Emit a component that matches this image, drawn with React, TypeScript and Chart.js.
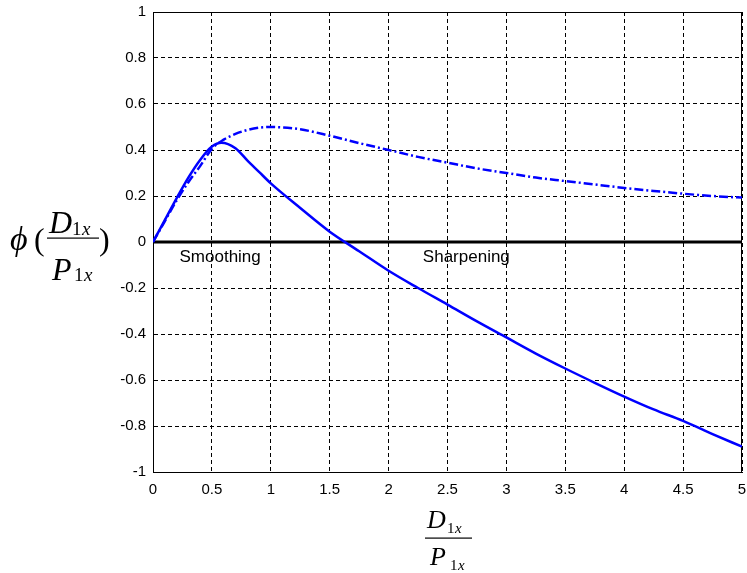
import React, { useEffect, useRef } from "react";
import { Chart, registerables } from "chart.js";

Chart.register(...registerables);

// Ratio D1x / P1x sampled along the horizontal axis
const ratioSolid = [0, 0.1, 0.2, 0.3, 0.4, 0.5, 0.58, 0.7, 0.8, 0.9, 1.0, 1.25, 1.5, 1.75, 2.0, 2.25, 2.5, 2.75, 3.0, 3.25, 3.5, 3.75, 4.0, 4.25, 4.5, 4.75, 5.0];
const phiSolid = [0, 0.095, 0.19, 0.28, 0.357, 0.415, 0.432, 0.408, 0.355, 0.305, 0.255, 0.148, 0.045, -0.04, -0.125, -0.2, -0.272, -0.345, -0.415, -0.485, -0.55, -0.612, -0.672, -0.728, -0.778, -0.835, -0.89];

const ratioDashDot = [0, 0.1, 0.2, 0.3, 0.4, 0.5, 0.6, 0.7, 0.8, 0.9, 1.0, 1.25, 1.5, 1.75, 2.0, 2.25, 2.5, 2.75, 3.0, 3.25, 3.5, 3.75, 4.0, 4.25, 4.5, 4.75, 5.0];
const phiDashDot = [0, 0.09, 0.18, 0.26, 0.33, 0.405, 0.445, 0.47, 0.487, 0.497, 0.5, 0.49, 0.462, 0.43, 0.4, 0.37, 0.345, 0.32, 0.3, 0.28, 0.265, 0.25, 0.235, 0.222, 0.21, 0.2, 0.193];

const zeroLineX = [0, 5];
const zeroLineY = [0, 0];

// Region annotations: [text, x, y]
const regionLabels: [string, number, number][] = [
  ["Smoothing", 0.57, -0.065],
  ["Sharpening", 2.66, -0.065],
];

const toPoints = (xs: number[], ys: number[]) => xs.map((x, i) => ({ x, y: ys[i] }));

const SANS = '"Liberation Sans", Arial, Helvetica, sans-serif';
const SERIF = '"Liberation Serif", "Times New Roman", serif';

const decorPlugin = {
  id: "decor",
  beforeDatasetsDraw(chart: any) {
    const { ctx, chartArea } = chart;
    ctx.save();
    ctx.strokeStyle = "#000";
    ctx.lineWidth = 1;
    ctx.setLineDash([]);
    ctx.strokeRect(chartArea.left + 0.5, chartArea.top + 0.5, chartArea.right - chartArea.left - 1, chartArea.bottom - chartArea.top);
    ctx.restore();
  },
  afterDraw(chart: any) {
    const { ctx, scales } = chart;
    const xs = scales.x;
    const ys = scales.y;
    ctx.save();
    ctx.fillStyle = "#000";
    ctx.textBaseline = "middle";
    ctx.textAlign = "center";
    ctx.font = `17px ${SANS}`;
    for (const [t, x, y] of regionLabels) {
      ctx.fillText(t, xs.getPixelForValue(x), ys.getPixelForValue(y));
    }

    ctx.textAlign = "left";
    ctx.textBaseline = "alphabetic";
    // vertical axis title: phi(D1x / P1x)
    ctx.font = `italic 34px ${SERIF}`;
    ctx.fillText("\u03d5", 10, 250);
    ctx.font = `32px ${SERIF}`;
    ctx.fillText("(", 34, 250);
    ctx.font = `italic 32px ${SERIF}`;
    ctx.fillText("D", 49, 233);
    ctx.font = `19px ${SERIF}`;
    ctx.fillText("1", 72, 235);
    ctx.font = `italic 19px ${SERIF}`;
    ctx.fillText("x", 82, 235);
    ctx.font = `italic 32px ${SERIF}`;
    ctx.fillText("P", 52, 280);
    ctx.font = `19px ${SERIF}`;
    ctx.fillText("1", 74, 281);
    ctx.font = `italic 19px ${SERIF}`;
    ctx.fillText("x", 84, 281);
    ctx.font = `32px ${SERIF}`;
    ctx.fillText(")", 99, 250);
    ctx.fillRect(47, 237.5, 52, 1.2);

    // horizontal axis title: D1x / P1x
    ctx.font = `italic 26px ${SERIF}`;
    ctx.fillText("D", 427, 528);
    ctx.font = `15px ${SERIF}`;
    ctx.fillText("1", 447, 533);
    ctx.font = `italic 15px ${SERIF}`;
    ctx.fillText("x", 455, 533);
    ctx.font = `italic 26px ${SERIF}`;
    ctx.fillText("P", 430, 565);
    ctx.font = `15px ${SERIF}`;
    ctx.fillText("1", 450, 570);
    ctx.font = `italic 15px ${SERIF}`;
    ctx.fillText("x", 458, 570);
    ctx.fillRect(425, 537.5, 47, 1.2);
    ctx.restore();
  },
};

export default function App() {
  const canvasRef = useRef<HTMLCanvasElement | null>(null);

  useEffect(() => {
    if (!canvasRef.current) return;
    const chart = new Chart(canvasRef.current, {
      type: "line",
      data: {
        datasets: [
          {
            data: toPoints(ratioSolid, phiSolid),
            borderColor: "#0000ff",
            borderWidth: 2.5,
            pointRadius: 0,
            cubicInterpolationMode: "monotone",
            order: 1,
          },
          {
            data: toPoints(ratioDashDot, phiDashDot),
            borderColor: "#0000ff",
            borderWidth: 2.5,
            borderDash: [9, 3, 2, 3],
            pointRadius: 0,
            cubicInterpolationMode: "monotone",
            order: 2,
          },
          {
            data: toPoints(zeroLineX, zeroLineY),
            borderColor: "#000",
            borderWidth: 3,
            pointRadius: 0,
            order: 3,
          },
        ],
      },
      options: {
        responsive: false,
        animation: false,
        devicePixelRatio: 1,
        layout: { padding: { top: 12, right: 5, left: 0, bottom: 0 } },
        plugins: { legend: { display: false }, tooltip: { enabled: false } },
        scales: {
          x: {
            type: "linear",
            min: 0,
            max: 5,
            afterFit: (s: any) => {
              s.height = 101;
              s.paddingLeft = 0;
              s.paddingRight = 0;
            },
            ticks: {
              stepSize: 0.5,
              color: "#000",
              font: { family: SANS, size: 15 },
              padding: 9,
              maxRotation: 0,
              callback: (v: any) => String(Number(Number(v).toFixed(1))),
            },
            grid: { color: "#000", lineWidth: 1, drawTicks: false },
            border: { display: true, color: "#000", dash: [4, 3] },
          },
          y: {
            type: "linear",
            min: -1,
            max: 1,
            afterFit: (s: any) => {
              s.width = 153;
              s.paddingTop = 0;
              s.paddingBottom = 0;
            },
            ticks: {
              stepSize: 0.2,
              color: "#000",
              font: { family: SANS, size: 15 },
              padding: 7,
              callback: (v: any) => String(Number(Number(v).toFixed(1))),
            },
            grid: { color: "#000", lineWidth: 1, drawTicks: false },
            border: { display: true, color: "#000", dash: [4, 3] },
          },
        },
      },
      plugins: [decorPlugin],
    });
    return () => chart.destroy();
  }, []);

  return (
    <div style={{ position: "absolute", left: 0, top: 0, width: 747, height: 573, background: "#fff" }}>
      <canvas ref={canvasRef} width={747} height={573} />
    </div>
  );
}
